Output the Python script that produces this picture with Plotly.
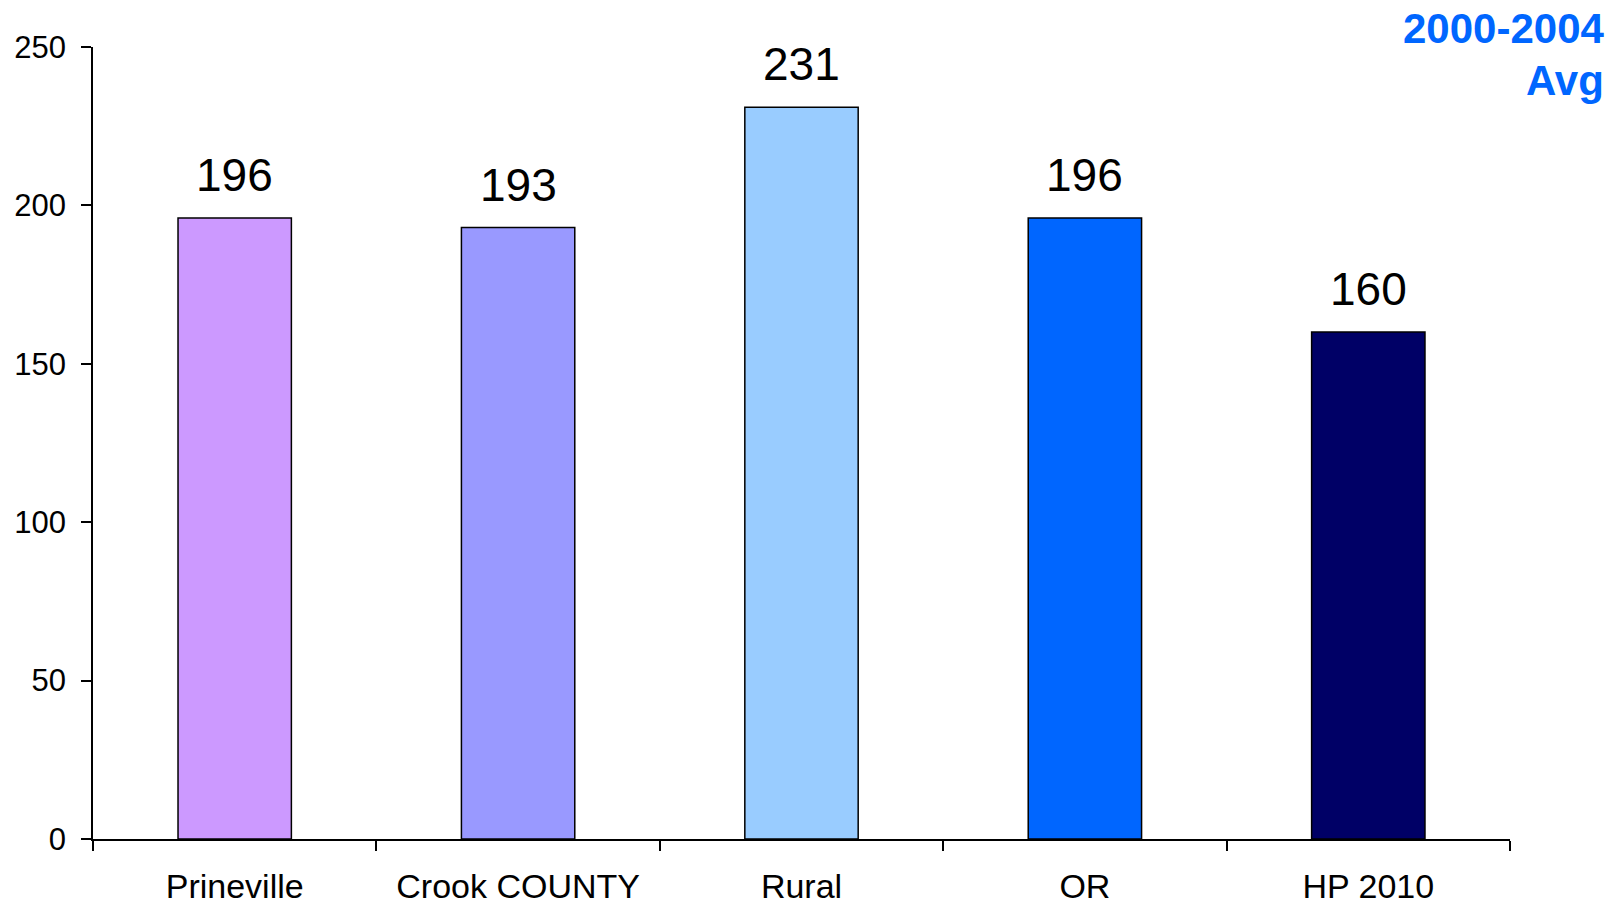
import plotly.graph_objects as go

# Category names and average values (2000-2004)
categories = ["Prineville", "Crook COUNTY", "Rural", "OR", "HP 2010"]
values = [196, 193, 231, 196, 160]
bar_colors = ["#CC99FF", "#9999FF", "#99CCFF", "#0066FF", "#000066"]
y_ticks = [0, 50, 100, 150, 200, 250]
period_lines = ["2000-2004", "Avg"]

FONT = "Liberation Sans, Arial, sans-serif"

fig = go.Figure(
    go.Bar(
        x=categories,
        y=values,
        width=0.4,
        marker=dict(color=bar_colors, line=dict(color="#000000", width=1.5)),
        hoverinfo="x+y",
    )
)

# Value labels above each bar
for cat, val in zip(categories, values):
    fig.add_annotation(
        x=cat, y=val, xref="x", yref="y",
        text=str(val), showarrow=False,
        yanchor="bottom", yshift=15,
        font=dict(family=FONT, size=46, color="#000000"),
    )

# Period label in the top-right corner, one annotation per line
for line, shift in zip(period_lines, [44, -8]):
    fig.add_annotation(
        xref="paper", yref="paper", x=1, y=1,
        xanchor="right", yanchor="top", xshift=96, yshift=shift,
        text=f"<b>{line}</b>", align="right", showarrow=False,
        font=dict(family=FONT, size=42, color="#0066FF"),
    )

fig.update_layout(
    width=1621, height=906,
    margin=dict(l=93, r=111, t=47, b=67),
    paper_bgcolor="#FFFFFF", plot_bgcolor="#FFFFFF",
    showlegend=False,
    font=dict(family=FONT, color="#000000"),
    bargap=0.6,
)

fig.update_xaxes(
    automargin=False,
    showline=True, linecolor="#000000", linewidth=1.5,
    ticks="outside", tickson="boundaries", ticklen=10, tickwidth=1.5, tickcolor="#000000",
    ticklabelstandoff=16,
    tickfont=dict(family=FONT, size=34, color="#000000"),
    showgrid=False, zeroline=False,
)

fig.update_yaxes(
    automargin=False,
    range=[0, 250], tickvals=y_ticks,
    showline=True, linecolor="#000000", linewidth=1.5,
    ticks="outside", ticklen=10, tickwidth=1.5, tickcolor="#000000",
    ticklabelstandoff=9,
    tickfont=dict(family=FONT, size=31, color="#000000"),
    showgrid=False, zeroline=False,
)

fig.write_html("out.html")
